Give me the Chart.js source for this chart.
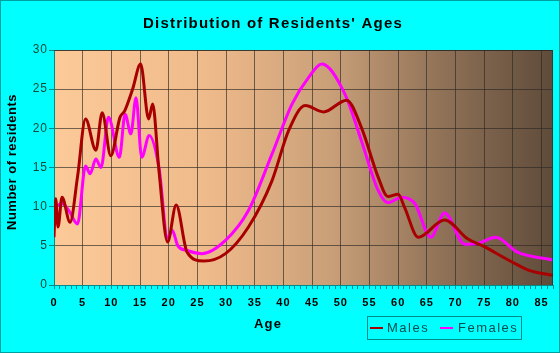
<!DOCTYPE html>
<html>
<head>
<meta charset="utf-8">
<title>Distribution of Residents' Ages</title>
<script src="https://cdn.jsdelivr.net/npm/chart.js@4.4.1/dist/chart.umd.min.js"></script>
<style>
  html, body { margin: 0; padding: 0; background: #00ffff; }
  #wrap { width: 560px; height: 353px; position: relative; }
</style>
</head>
<body>
<div id="wrap"><canvas id="grafico" width="560" height="353"></canvas></div>
<script>
// ages (x) and number of residents (y)
const maleAges = [0, 0.3, 0.7, 1.4, 2.8, 4.1, 5.5, 7.3, 8.4, 9.9, 11.5, 12.3, 13.7, 15.1, 16.5, 17.2, 18.3, 19.8, 21.3, 23.2, 26.1, 29.9, 33.9, 38, 40.9, 43.8, 47, 51, 53.6, 56.5, 58.2, 60, 61.1, 63.5, 68.1, 72.1, 75, 79.7, 83.1, 87];
const maleValues = [6.1, 11.0, 7.4, 11.2, 8.0, 13.8, 21.2, 17.2, 22.0, 16.5, 21.4, 22.2, 25.0, 28.2, 21.2, 23.1, 14.6, 5.5, 10.2, 4.2, 3.05, 4.0, 7.4, 13.3, 19.7, 22.9, 22.1, 23.6, 20.1, 13.8, 11.3, 11.6, 9.95, 6.1, 8.3, 5.9, 4.9, 3.0, 1.8, 1.25];

const femaleAges = [0, 1.4, 2.6, 4.1, 5.5, 6.3, 7.3, 8.2, 9.5, 11.4, 12.4, 13.4, 14.3, 15.3, 16.6, 18.3, 19.8, 20.6, 21.6, 23.2, 25.8, 29.9, 33.9, 38, 41.5, 44.4, 46.7, 50.7, 53.6, 56.5, 58.2, 60.6, 62.9, 65.7, 68.1, 71.6, 73.9, 77, 80.8, 87];
const femaleValues = [9.8, 10.4, 9.5, 7.8, 15.2, 14.2, 16.1, 15.0, 21.4, 16.3, 21.8, 19.3, 23.9, 16.3, 19.1, 15.0, 6.0, 7.0, 5.0, 4.4, 4.0, 5.7, 9.5, 16.7, 23.1, 26.5, 28.2, 24.4, 18.4, 12.1, 10.5, 11.2, 10.4, 6.1, 9.2, 5.2, 5.3, 6.1, 4.2, 3.2];

const seriesNames = ["Males", "Females"];
const seriesColors = ["#a80000", "#ff00ff"];
const xMax = 87;
const yMax = 30;

const teal = "#008b8b";
const gridColor = "rgba(45,40,35,0.65)";

function pontos(xs, ys) {
  return xs.map((x, i) => ({ x: x, y: ys[i] }));
}

// fundo degradê da área do gráfico + textos e legenda
const decoracao = {
  id: "decoracao",
  beforeDraw(chart) {
    const { ctx, chartArea: a } = chart;
    ctx.save();
    const g = ctx.createLinearGradient(a.left, 0, a.right, 0);
    g.addColorStop(0, "#fcc999");
    g.addColorStop(0.3, "#f0bb8b");
    g.addColorStop(0.55, "#caa079");
    g.addColorStop(0.78, "#8f7157");
    g.addColorStop(1, "#5f4b3a");
    ctx.fillStyle = g;
    ctx.fillRect(a.left, a.top, a.right - a.left, a.bottom - a.top);
    ctx.restore();
    ctx.letterSpacing = "1px";
  },
  afterDraw(chart) {
    const { ctx, chartArea: a } = chart;
    ctx.save();
    // moldura da área
    ctx.strokeStyle = gridColor;
    ctx.lineWidth = 1;
    ctx.beginPath();
    ctx.moveTo(a.left, a.top + 0.5);
    ctx.lineTo(a.right - 0.5, a.top + 0.5);
    ctx.lineTo(a.right - 0.5, a.bottom);
    ctx.stroke();

    ctx.fillStyle = "#000";
    ctx.textAlign = "center";
    ctx.textBaseline = "middle";
    ctx.letterSpacing = "1.2px";
    ctx.font = "bold 15px 'Liberation Sans', Arial, sans-serif";
    ctx.fillText("Distribution of Residents' Ages", 273, 24);

    ctx.font = "bold 13px 'Liberation Sans', Arial, sans-serif";
    ctx.fillText("Age", 268, 324);

    ctx.save();
    ctx.translate(12, 162);
    ctx.rotate(-Math.PI / 2);
    ctx.letterSpacing = "0.5px";
    ctx.fillText("Number of residents", 0, 0);
    ctx.restore();

    // legenda
    ctx.strokeStyle = teal;
    ctx.lineWidth = 1;
    ctx.strokeRect(367.5, 316.5, 154, 23);
    ctx.font = "13px 'Liberation Sans', Arial, sans-serif";
    ctx.letterSpacing = "1.5px";
    ctx.textAlign = "left";
    ctx.fillStyle = "#0a4c4c";
    const itens = [{ x: 370, tx: 387 }, { x: 440, tx: 458 }];
    chart.data.datasets.forEach((ds, i) => {
      ctx.strokeStyle = ds.borderColor;
      ctx.lineWidth = 2;
      ctx.beginPath();
      ctx.moveTo(itens[i].x, 328);
      ctx.lineTo(itens[i].x + 13, 328);
      ctx.stroke();
      ctx.fillText(ds.label, itens[i].tx, 328);
    });

    // borda externa
    ctx.strokeStyle = "#00a0a0";
    ctx.lineWidth = 1;
    ctx.strokeRect(0.5, 0.5, 559, 352);
    ctx.restore();
  }
};

const ctx = document.getElementById("grafico").getContext("2d");
new Chart(ctx, {
  type: "line",
  data: {
    datasets: [
      {
        label: seriesNames[0],
        data: pontos(maleAges, maleValues),
        borderColor: seriesColors[0],
        backgroundColor: seriesColors[0],
        borderWidth: 3,
        pointRadius: 0,
        tension: 0.4,
        cubicInterpolationMode: "monotone",
        order: 1
      },
      {
        label: seriesNames[1],
        data: pontos(femaleAges, femaleValues),
        borderColor: seriesColors[1],
        backgroundColor: seriesColors[1],
        borderWidth: 3,
        pointRadius: 0,
        tension: 0.4,
        cubicInterpolationMode: "monotone",
        order: 2
      }
    ]
  },
  options: {
    responsive: false,
    animation: false,
    devicePixelRatio: 1,
    layout: { padding: { top: 50, right: 6, left: 0, bottom: 0 } },
    plugins: {
      legend: { display: false },
      title: { display: false },
      tooltip: { enabled: false }
    },
    scales: {
      x: {
        type: "linear",
        min: 0,
        max: xMax,
        afterFit: s => { s.height = 68; },
        border: { color: teal, width: 1 },
        grid: {
          color: c => (c.tick && c.tick.value % 5 === 0 && c.tick.value > 0) ? gridColor : "rgba(0,0,0,0)",
          tickColor: teal,
          tickLength: 4
        },
        ticks: {
          stepSize: 1,
          autoSkip: false,
          maxRotation: 0,
          padding: 7,
          color: "#000",
          font: { family: "'Liberation Sans', Arial, sans-serif", size: 11, weight: "bold" },
          callback: v => (v % 5 === 0 ? v : "")
        }
      },
      y: {
        min: 0,
        max: yMax,
        afterFit: s => { s.width = 54; },
        border: { color: teal, width: 1 },
        grid: {
          color: c => (c.tick && c.tick.value > 0) ? gridColor : "rgba(0,0,0,0)",
          tickColor: teal,
          tickLength: 5
        },
        ticks: {
          stepSize: 5,
          padding: 1,
          color: "#0b4a3a",
          font: { family: "'Liberation Sans', Arial, sans-serif", size: 12 }
        }
      }
    }
  },
  plugins: [decoracao]
});
</script>
</body>
</html>
